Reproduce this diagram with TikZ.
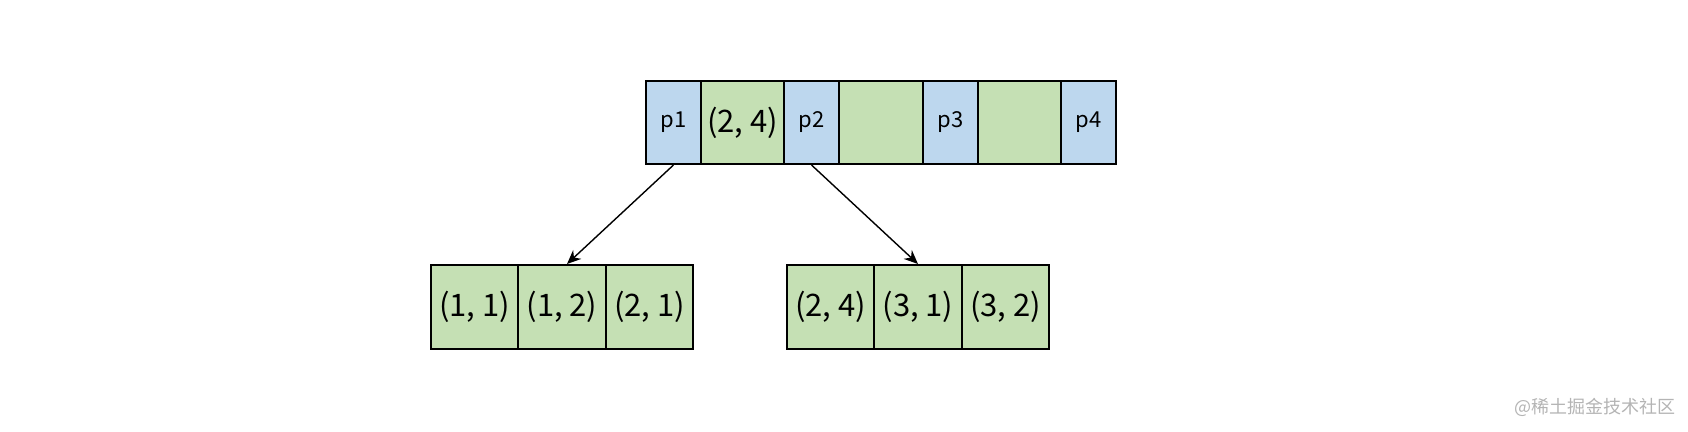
\documentclass[tikz,border=0pt]{standalone}
\usepackage{fontspec}
\setmainfont{Noto Sans CJK SC}
\usetikzlibrary{arrows.meta}
\definecolor{cellblue}{HTML}{BDD7EE}
\definecolor{cellgreen}{HTML}{C5E0B4}
\definecolor{wmgray}{HTML}{B4B4B4}
\tikzset{
  cell/.style={draw=black, line width=1pt, inner sep=0pt, anchor=center},
  pcell/.style={cell, fill=cellblue, font=\fontsize{11}{13}\selectfont},
  kcell/.style={cell, fill=cellgreen, font=\fontsize{15.5}{18}\selectfont},
  link/.style={line width=0.7pt, -{Stealth[length=7pt,width=6pt]}},
}
\begin{document}
\begin{tikzpicture}[x=0.5pt, y=-0.5pt]
\useasboundingbox (0,0) rectangle (1688,432);
% top row
\node[pcell, minimum width=27.5pt, minimum height=41.5pt] (p1) at (673.5,122.5) {p1};
\node[kcell, minimum width=41.5pt, minimum height=41.5pt] (k24) at (742.5,122.5) {(2, 4)};
\node[pcell, minimum width=27.5pt, minimum height=41.5pt] (p2) at (811.5,122.5) {p2};
\node[kcell, minimum width=42pt, minimum height=41.5pt] (g1) at (881,122.5) {};
\node[pcell, minimum width=27.5pt, minimum height=41.5pt] (p3) at (950.5,122.5) {p3};
\node[kcell, minimum width=41.5pt, minimum height=41.5pt] (g2) at (1019.5,122.5) {};
\node[pcell, minimum width=27.5pt, minimum height=41.5pt] (p4) at (1088.5,122.5) {p4};
% bottom left
\node[kcell, minimum width=43.5pt, minimum height=42pt] (l1) at (474.5,307) {(1, 1)};
\node[kcell, minimum width=44pt, minimum height=42pt] (l2) at (562,307) {(1, 2)};
\node[kcell, minimum width=43.5pt, minimum height=42pt] (l3) at (649.5,307) {(2, 1)};
% bottom right
\node[kcell, minimum width=43.5pt, minimum height=42pt] (r1) at (830.5,307) {(2, 4)};
\node[kcell, minimum width=44pt, minimum height=42pt] (r2) at (918,307) {(3, 1)};
\node[kcell, minimum width=43.5pt, minimum height=42pt] (r3) at (1005.5,307) {(3, 2)};
% arrows
\draw[link] (p1.south) -- ([xshift=2.5pt]l2.north);
\draw[link] (p2.south) -- (r2.north);
% watermark
\node[text=wmgray, font=\fontsize{9}{11}\selectfont, anchor=east, inner sep=0pt] (wm) at (1676,407) {@稀土掘金技术社区};
\end{tikzpicture}
\end{document}
